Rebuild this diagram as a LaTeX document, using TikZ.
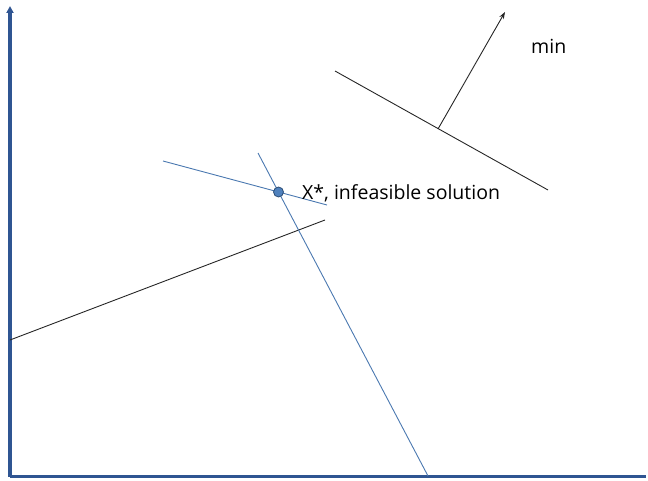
\documentclass[tikz,border=0pt]{standalone}
\usepackage{fontspec}
\setmainfont{Open Sans}
\usetikzlibrary{arrows.meta}
\definecolor{axisblue}{HTML}{2F5592}
\definecolor{lineblue}{HTML}{4A78B0}
\definecolor{dotfill}{HTML}{4F81BD}
\definecolor{dotedge}{HTML}{2C4D75}
\definecolor{blk}{HTML}{262626}
\tikzset{
  axis/.style={draw=axisblue, line width=3.1pt},
  bline/.style={draw=lineblue, line width=0.9pt},
  kline/.style={draw=blk, line width=0.9pt},
  lbl/.style={font=\fontsize{19.5}{23}\selectfont, text=black, inner sep=0pt, anchor=west},
}
\begin{document}
\begin{tikzpicture}[x=1pt,y=-1pt]
\useasboundingbox (0,0) rectangle (648,481);
% axes
\coordinate (O) at (10,476.5);
\coordinate (Ytop) at (10,6);
\coordinate (Xend) at (646,476.5);
\draw[axis, -{Triangle[length=7pt,width=7pt]}] (O) -- (Ytop);
\draw[axis] (O) -- (Xend);
% black constraint line
\coordinate (k1a) at (10,340);
\coordinate (k1b) at (325,220);
\draw[kline] (k1a) -- (k1b);
% blue lines
\coordinate (b1a) at (163,161);
\coordinate (b1b) at (327,205);
\draw[bline] (b1a) -- (b1b);
\coordinate (b2a) at (258,153);
\coordinate (b2b) at (428,476);
\draw[bline] (b2a) -- (b2b);
% objective line and arrow
\coordinate (k2a) at (335,71);
\coordinate (k2b) at (548,190);
\draw[kline] (k2a) -- (k2b);
\coordinate (arrS) at (438,129);
\coordinate (arrE) at (505,12);
\draw[kline, -{Stealth[length=7pt,width=5pt]}] (arrS) -- (arrE);
% point
\node[circle, fill=dotfill, draw=dotedge, line width=0.8pt, minimum size=10pt, inner sep=0pt] (xs) at (278.5,192) {};
\node[lbl] (xlabel) at (302,193) {X*, infeasible solution};
\node[lbl] (minlbl) at (531,46) {min};
\end{tikzpicture}
\end{document}
